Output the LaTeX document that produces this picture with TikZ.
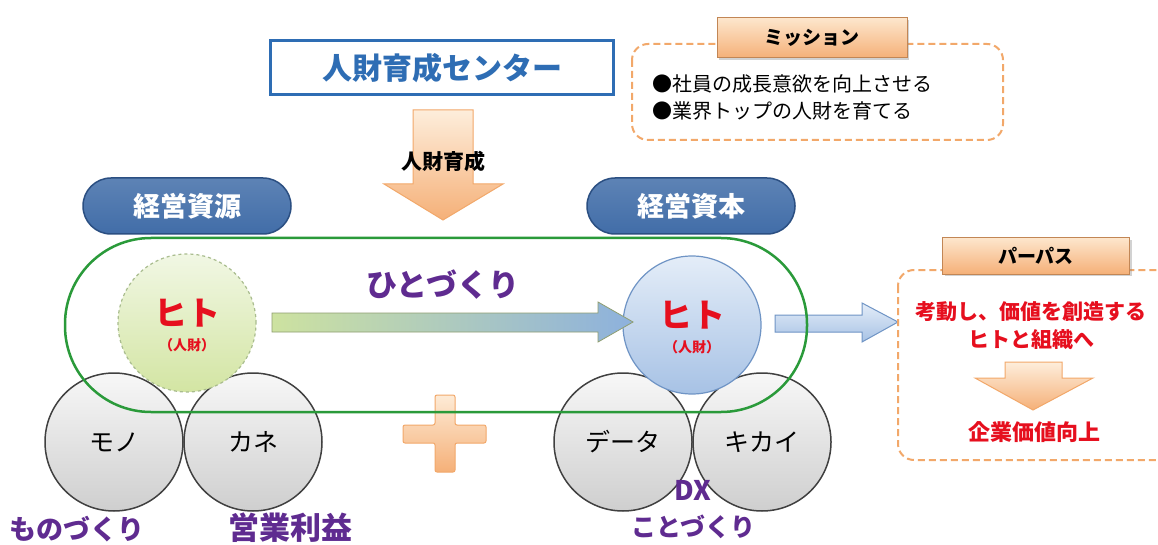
\documentclass[tikz,border=0pt]{standalone}
\usepackage{fontspec}
\setmainfont{Noto Sans CJK JP}
\usetikzlibrary{shadows}
\newcommand{\fsz}[1]{\fontsize{#1}{#1}\selectfont}
\definecolor{cblue}{HTML}{2E6DB4}
\definecolor{pill}{HTML}{416DA8}
\definecolor{pilld}{HTML}{2B4F82}
\definecolor{cgreen}{HTML}{2A9A3A}
\definecolor{cpurple}{HTML}{5F2B90}
\definecolor{cred}{HTML}{E60F1E}
\definecolor{corange}{HTML}{F2A86A}
\definecolor{otop}{HTML}{FDE6CC}
\definecolor{obot}{HTML}{F5B078}
\definecolor{lgtop}{HTML}{F1F7E4}
\definecolor{lgbot}{HTML}{D3E5A3}
\definecolor{lgdraw}{HTML}{A9BC8E}
\definecolor{lbtop}{HTML}{E4EDF8}
\definecolor{lbbot}{HTML}{A7C2E5}
\definecolor{lbdraw}{HTML}{6F94C5}
\definecolor{argreen}{HTML}{CDE2A0}
\definecolor{arblue}{HTML}{8DB1DD}
\tikzset{
  x=1pt, y=-1pt,
  tabbox/.style={draw=corange!80!black, line width=1pt, top color=otop, bottom color=obot,
    drop shadow={opacity=0.35, shadow xshift=2pt, shadow yshift=-2pt},
    font=\bfseries\fsz{19}, inner sep=0pt},
  dashbox/.style={draw=corange, line width=2pt, dash pattern=on 7pt off 4pt, rounded corners=16pt},
  pillbox/.style={rounded corners=28pt, top color=pill!85!white, bottom color=pill, draw=pilld, line width=1.5pt,
    text=white, font=\bfseries\fsz{27}, minimum width=208pt, minimum height=56pt},
  graycirc/.style={circle, draw=black!75, line width=1.5pt, top color=gray!6, bottom color=gray!38,
    minimum size=138pt, inner sep=0pt, font=\fsz{25}},
  hitocirc/.style={circle, minimum size=138pt, inner sep=0pt},
  hitobig/.style={text=cred, font=\bfseries\fsz{33}, inner sep=0pt},
  hitosmall/.style={text=cred, font=\bfseries\fsz{14}, inner sep=0pt},
  orangeshape/.style={top color=otop, bottom color=obot, draw=corange, line width=1pt},
  purpletext/.style={text=cpurple, font=\bfseries, inner sep=0pt},
  redtext/.style={text=cred, font=\bfseries\fsz{21}, inner sep=0pt},
}
\begin{document}
\begin{tikzpicture}
\useasboundingbox (0,0) rectangle (1158,545);
\clip (0,0) rectangle (1158,545);
\fill[white] (0,0) rectangle (1158,545);

% top centre box
\node[draw=cblue, line width=3pt, minimum width=343pt, minimum height=54pt, text=cblue,
  font=\bfseries\fsz{30}] (center) at (442,68) {人財育成センター};

% big down arrow
\shade[orangeshape, top color=otop!70!white] (413,110) -- (473,110) -- (473,184) -- (503,184) -- (443,220)
  -- (384,184) -- (413,184) -- cycle;
\node[font=\bfseries\fsz{21}] (ikusei) at (443,162) {人財育成};

% mission
\draw[dashbox] (632,44) rectangle (1003,140);
\node[tabbox, minimum width=190pt, minimum height=40pt] (mission) at (812,38) {ミッション};
\node[anchor=west, font=\fsz{20}, inner sep=0pt] (m1) at (652,84) {●社員の成長意欲を向上させる};
\node[anchor=west, font=\fsz{20}, inner sep=0pt] (m2) at (652,111) {●業界トップの人財を育てる};

% pills
\node[pillbox] (gen) at (187,206) {経営資源};
\node[pillbox] (hon) at (691,206) {経営資本};

% grey circles
\node[graycirc] (mono) at (114,442) {モノ};
\node[graycirc] (kane) at (253,442) {カネ};
\node[graycirc] (data) at (623,442) {データ};
\node[graycirc] (kikai) at (762,442) {キカイ};

% hito circles
\node[hitocirc, draw=lgdraw, dashed, line width=1.2pt, top color=lgtop, bottom color=lgbot] (hito1) at (187,323) {};
\node[hitobig] (hito1t) at (187,313) {ヒト};
\node[hitosmall] (hito1s) at (187,345) {（人財）};
\node[hitocirc, draw=lbdraw, line width=1.2pt, top color=lbtop, bottom color=lbbot] (hito2) at (692,325) {};
\node[hitobig] (hito2t) at (692,315) {ヒト};
\node[hitosmall] (hito2s) at (692,347) {（人財）};

% gradient arrow hito1 -> hito2
\shade[left color=argreen, right color=arblue, draw=argreen!70!black, line width=0.8pt]
  (272,313) -- (598,313) -- (598,302) -- (633,322) -- (598,342) -- (598,332) -- (272,332) -- cycle;
\node[purpletext, font=\bfseries\fsz{31}] (hitozukuri) at (443,285) {ひとづくり};

% right arrow to purpose
\shade[top color=lbtop, bottom color=lbbot, draw=lbdraw, line width=1pt]
  (775,315) -- (862,315) -- (862,303) -- (898,322) -- (862,342) -- (862,332) -- (775,332) -- cycle;

% purpose box
\draw[dashbox] (898,270) rectangle (1180,460);
\node[tabbox, minimum width=187pt, minimum height=36pt] (purpose) at (1036,256) {パーパス};
\node[redtext] (p1) at (1031,312) {考動し、価値を創造する};
\node[redtext] (p2) at (1031,340) {ヒトと組織へ};
\shade[orangeshape, top color=otop!70!white] (1005,362) -- (1062,362) -- (1062,378) -- (1093,378) -- (1033,410)
  -- (975,378) -- (1005,378) -- cycle;
\node[redtext, font=\bfseries\fsz{22}] (p3) at (1034,432) {企業価値向上};

% plus
\shade[orangeshape, rounded corners=2pt, top color=otop!80!white]
  (435,395) -- (455,395) -- (455,425) -- (486,425) -- (486,443) -- (455,443) -- (455,472) -- (435,472)
  -- (435,443) -- (403,443) -- (403,425) -- (435,425) -- cycle;

% green stadium
\draw[cgreen, line width=2.5pt, rounded corners=86pt] (65,238) rectangle (807,412);

% bottom labels
\node[purpletext, font=\bfseries\fsz{27}] (monozukuri) at (77,529) {ものづくり};
\node[purpletext, font=\bfseries\fsz{31}] (eigyo) at (290,528) {営業利益};
\node[purpletext, font=\bfseries\fsz{27}] (dx) at (693,490) {DX};
\node[purpletext, font=\bfseries\fsz{25}] (kotozukuri) at (693,527) {ことづくり};
\end{tikzpicture}
\end{document}
